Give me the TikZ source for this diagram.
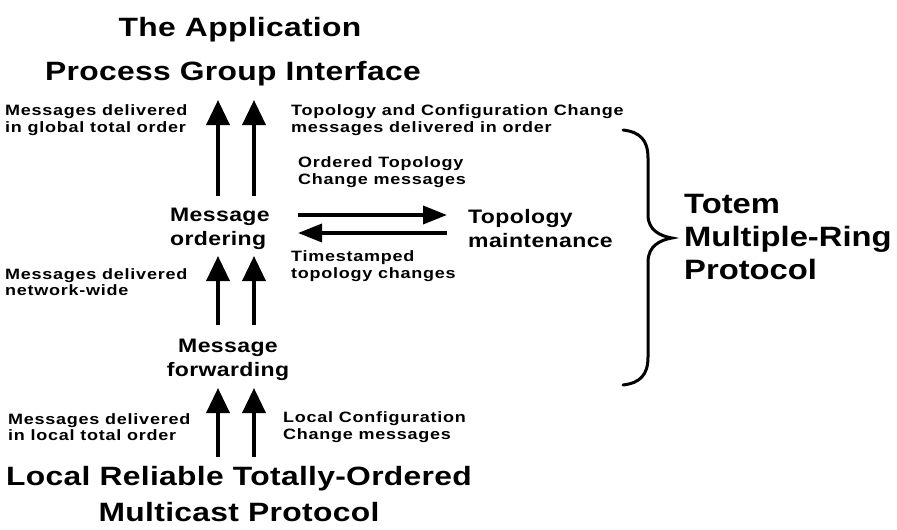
\documentclass[tikz,border=0pt]{standalone}
\usepackage{fontspec}
\setmainfont{Liberation Sans}
\newfontfamily\bigf{Liberation Sans Bold}[FakeStretch=1.2,LetterSpace=1.2]
\newfontfamily\midf{Liberation Sans Bold}[FakeStretch=1.18,LetterSpace=2]
\newfontfamily\smallf{Liberation Sans Bold}[FakeStretch=1.2,LetterSpace=5]
\newfontfamily\totemf{Liberation Sans Bold}[FakeStretch=1.17]
\usetikzlibrary{arrows.meta}
\begin{document}
\begin{tikzpicture}[x=1pt,y=-1pt,
  big/.style={font=\bigf\fontsize{26.5}{36}\selectfont, inner sep=0pt, align=center},
  mid/.style={font=\midf\fontsize{19.5}{24}\selectfont, inner sep=0pt},
  lbl/.style={font=\smallf\fontsize{15}{16.5}\selectfont, inner sep=0pt, align=left, anchor=west},
  flow/.style={line width=3.6pt, -{Triangle[length=25pt,width=23pt]}},
  hflow/.style={line width=3.6pt, -{Triangle[length=24pt,width=18pt]}}]
\useasboundingbox (0,0) rectangle (897,530);
% titles
\node[big] (app) at (240,30) {The Application};
\node[big] (pgi) at (233,74) {Process Group Interface};
\node[mid, align=left, anchor=west] (mo) at (170,229) {Message\\ordering};
\node[mid, align=left, anchor=west] (tm) at (468,229) {Topology\\maintenance};
\node[mid, align=center] (mf) at (228,360) {Message\\forwarding};
\node[big] (lrto) at (239,494) {Local Reliable Totally-Ordered\\Multicast Protocol};
\node[font=\totemf\fontsize{28}{33}\selectfont, align=left, inner sep=0pt, anchor=west] (totem) at (684,237) {Totem\\Multiple-Ring\\Protocol};
% labels
\node[lbl] (l1) at (5,120) {Messages delivered\\in global total order};
\node[lbl] (l2) at (291,120) {Topology and Configuration Change\\messages delivered in order};
\node[lbl] (l3) at (298,172) {Ordered Topology\\Change messages};
\node[lbl] (l4) at (291,266) {Timestamped\\topology changes};
\node[lbl] (l5) at (5,282) {Messages delivered\\network-wide};
\node[lbl] (l6) at (8,427) {Messages delivered\\in local total order};
\node[lbl] (l7) at (283,427) {Local Configuration\\Change messages};
% arrow endpoints
\coordinate (a1s) at (218,196); \coordinate (a1e) at (218,100);
\coordinate (a2s) at (254,196); \coordinate (a2e) at (254,100);
\coordinate (b1s) at (218,325); \coordinate (b1e) at (218,256);
\coordinate (b2s) at (254,325); \coordinate (b2e) at (254,256);
\coordinate (c1s) at (218,457); \coordinate (c1e) at (218,388);
\coordinate (c2s) at (254,457); \coordinate (c2e) at (254,388);
\coordinate (h1s) at (298,215); \coordinate (h1e) at (447,215);
\coordinate (h2s) at (447,233); \coordinate (h2e) at (298,233);
\draw[flow] (a1s) -- (a1e);
\draw[flow] (a2s) -- (a2e);
\draw[flow] (b1s) -- (b1e);
\draw[flow] (b2s) -- (b2e);
\draw[flow] (c1s) -- (c1e);
\draw[flow] (c2s) -- (c2e);
\draw[hflow] (h1s) -- (h1e);
\draw[hflow] (h2s) -- (h2e);
% brace
\coordinate (bt) at (623,130);
\coordinate (bm) at (672,238);
\coordinate (bb) at (623,385);
\draw[line width=3pt, line cap=round] (bt) .. controls (640,132) and (648,140) .. (648,158)
  -- (648,215) .. controls (648,230) and (660,236) .. (bm)
  .. controls (660,240) and (648,246) .. (648,262)
  -- (648,357) .. controls (648,375) and (640,383) .. (bb);
\end{tikzpicture}
\end{document}
